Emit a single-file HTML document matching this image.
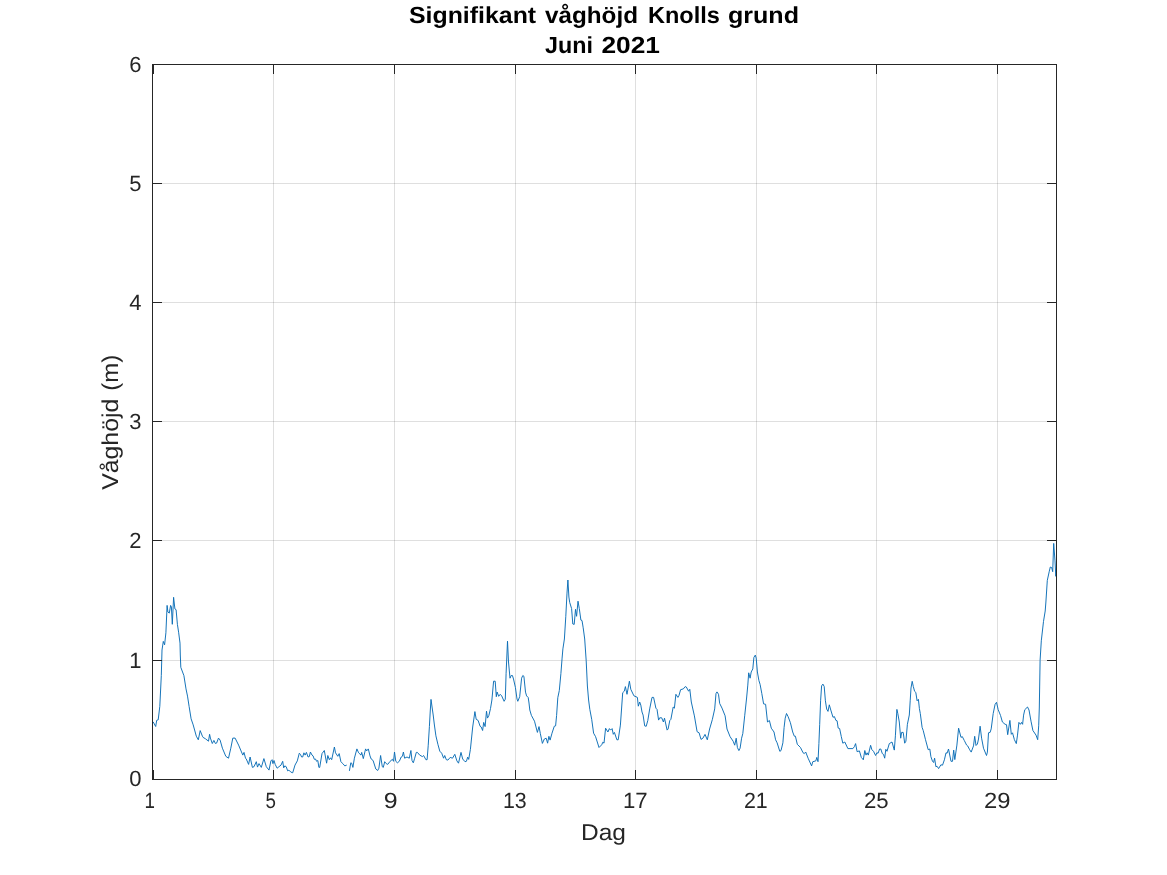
<!DOCTYPE html>
<html><head><meta charset="utf-8"><title>Signifikant våghöjd Knolls grund</title>
<style>
html,body{margin:0;padding:0;background:#fff;}
body{width:1167px;height:875px;overflow:hidden;position:relative;font-family:"Liberation Sans",sans-serif;}
svg{position:absolute;left:0;top:0;will-change:transform;}
text{font-family:"Liberation Sans",sans-serif;white-space:pre;text-rendering:geometricPrecision;}
.tk{font-size:22.0px;fill:#262626;}
.lb{font-size:22.9px;fill:#262626;}
.tt{font-size:23.3px;font-weight:bold;fill:#000;}
</style></head><body>
<svg width="1167" height="875" viewBox="0 0 1167 875">
<rect x="0" y="0" width="1167" height="875" fill="#fff"/>
<g stroke="#262626" stroke-opacity="0.15" stroke-width="1" shape-rendering="crispEdges">
<line x1="273.5" y1="64.5" x2="273.5" y2="779.5"/>
<line x1="394.5" y1="64.5" x2="394.5" y2="779.5"/>
<line x1="515.5" y1="64.5" x2="515.5" y2="779.5"/>
<line x1="635.5" y1="64.5" x2="635.5" y2="779.5"/>
<line x1="756.5" y1="64.5" x2="756.5" y2="779.5"/>
<line x1="876.5" y1="64.5" x2="876.5" y2="779.5"/>
<line x1="997.5" y1="64.5" x2="997.5" y2="779.5"/>
<line x1="152.5" y1="660.5" x2="1056.5" y2="660.5"/>
<line x1="152.5" y1="540.5" x2="1056.5" y2="540.5"/>
<line x1="152.5" y1="421.5" x2="1056.5" y2="421.5"/>
<line x1="152.5" y1="302.5" x2="1056.5" y2="302.5"/>
<line x1="152.5" y1="183.5" x2="1056.5" y2="183.5"/>
</g>
<g fill="none" stroke="#0a6db5" stroke-width="0.95" stroke-linejoin="round" stroke-linecap="butt">
<polyline points="153.1,721.8 155.7,726.5 156.7,720.3 158.2,719.8 159.8,706.4 161.3,675.6 162.0,650.0 163.3,641.4 164.6,644.8 165.9,632.8 167.1,605.4 167.9,612.0 169.3,613.1 170.6,605.4 171.4,607.0 172.3,624.3 173.6,597.3 174.9,608.9 176.1,609.7 177.4,624.3 178.7,632.8 180.0,643.1 180.3,655.0 180.8,667.3 183.9,675.6 186.0,688.9 187.5,696.1 189.1,706.4 191.1,718.8 193.2,724.9 196.3,736.2 198.3,739.8 200.2,730.6 202.4,736.2 203.1,737.4 205.5,738.8 208.5,741.2 209.6,734.3 210.4,738.1 212.3,743.5 213.9,740.4 215.4,743.5 216.6,743.1 218.5,738.1 220.1,740.1 222.4,748.2 225.8,756.3 228.5,758.2 230.8,748.2 232.8,738.1 235.1,738.1 238.6,745.1 242.8,755.1 244.0,752.4 245.5,758.2 246.3,759.0 248.6,764.4 250.1,757.0 252.4,767.4 254.0,766.7 256.3,761.7 257.5,767.1 259.0,763.6 261.3,767.4 263.9,758.6 266.3,766.7 269.0,770.1 270.9,760.9 272.1,759.7 272.9,763.6 274.0,760.5 275.2,764.4 277.1,768.2 281.0,765.1 282.7,761.3 283.7,767.8 284.8,765.9 286.2,766.7 287.7,770.9 288.9,770.1 290.8,772.1 292.7,772.8 295.0,765.1 297.3,760.9 299.3,753.2 300.4,754.3 301.6,757.0 302.7,757.0 303.9,752.8 305.1,755.1 306.4,752.4 308.1,757.0 309.3,756.6 310.4,752.0 312.0,755.1 313.1,755.9 314.3,759.3 315.5,759.0 316.6,761.3 317.8,760.5 318.9,767.4 319.7,767.4 322.0,753.6 324.3,750.5 326.6,763.2 327.8,755.5 329.3,759.7 330.5,757.8 331.7,759.7 334.4,747.0 335.5,752.8 337.8,756.3 339.2,753.6 340.9,761.7 342.8,763.6 344.8,765.9 346.7,765.1"/>
<polyline points="349.4,770.9 350.8,762.8 351.7,763.2 352.9,767.4 354.4,758.2 356.9,748.9 358.6,752.8 361.0,755.1 361.7,752.4 363.3,758.6 365.6,748.9 366.7,750.9 368.3,748.9 370.0,755.9 371.2,759.0 373.1,760.5 375.8,769.0 377.7,770.5 378.9,768.2 380.6,755.5 382.3,766.7 383.3,767.4 384.7,761.7 386.2,763.6 387.7,764.4 390.1,761.3 392.4,759.3 393.5,761.3 394.5,752.0 395.8,761.3 397.4,762.8 399.3,761.3 401.2,757.0 402.4,756.3 403.4,752.0 404.6,758.2 407.0,757.0 409.3,758.2 410.9,750.5 412.0,760.5 413.3,762.8 414.7,758.2 416.3,752.4 417.4,752.4 419.7,755.1 422.4,756.6 423.6,755.5 425.9,759.7 427.1,759.7 428.2,745.8 429.4,726.6 430.2,712.0 431.0,699.4 432.2,708.0 433.2,715.0 434.4,725.0 435.9,735.8 437.9,744.3 439.8,751.2 441.7,753.2 443.6,758.2 444.7,755.5 446.3,759.7 447.9,760.1 450.2,757.4 452.5,758.2 454.8,754.3 456.9,760.9 458.5,763.2 461.0,752.4 462.7,759.0 465.0,761.7 466.4,761.3 467.7,757.1 468.7,759.4 470.4,749.4 472.7,727.0 474.9,711.6 476.2,719.3 478.1,720.4 480.1,726.2 481.2,727.0 482.6,730.5 483.7,722.4 485.1,726.6 486.5,711.2 487.5,718.1 488.9,715.4 490.5,708.5 491.9,700.0 493.6,681.2 495.2,681.2 496.3,696.7 497.1,692.0 498.7,696.3 500.2,694.3 501.7,695.9 504.1,701.3 505.3,699.2 506.1,673.3 507.5,641.2 508.5,662.0 510.0,678.2 511.2,675.5 512.4,675.5 513.5,679.0 515.4,687.4 517.0,699.0 517.8,701.3 519.7,696.7 521.6,678.2 522.8,675.5 523.9,676.3 525.5,692.1 526.6,695.9 528.2,697.5 529.0,703.0 529.8,710.0 531.4,715.4 534.5,721.2 537.4,732.4 539.0,726.6 540.3,733.4 542.4,743.4 544.3,739.0 546.2,738.2 547.6,743.2 548.9,736.3 550.1,740.1 552.0,733.2 554.3,726.2 555.6,725.9 556.6,715.4 557.8,697.7 559.3,690.5 560.9,673.6 562.1,658.1 562.9,648.9 564.4,639.0 565.8,616.3 567.0,593.1 567.9,580.0 568.9,597.0 569.7,602.4 571.6,608.6 572.8,624.0 574.2,624.4 575.5,609.3 576.6,616.3 578.0,601.2 579.3,608.6 580.9,620.1 582.0,620.5 583.2,627.8 584.7,639.0 586.2,660.8 587.4,686.0 588.6,700.0 589.8,709.3 591.7,719.3 593.6,733.2 595.6,736.7 599.0,747.5 601.7,744.8 602.9,742.1 604.0,743.2 605.6,728.2 607.9,732.0 609.4,728.6 610.6,730.1 612.1,728.6 613.3,734.3 614.4,732.4 616.9,739.8 618.2,739.8 620.4,725.1 622.7,692.7 624.3,691.2 625.4,686.6 627.0,694.3 629.4,681.2 630.8,689.3 633.9,695.8 637.4,697.4 638.3,706.2 639.7,702.0 640.8,705.1 642.0,712.0 643.1,715.1 644.7,725.9 646.2,726.3 647.8,720.5 649.7,708.9 652.0,697.4 653.6,697.4 655.9,708.2 657.0,709.3 658.6,720.1 659.7,717.8 661.7,717.8 663.4,722.0 664.5,718.2 667.1,730.1 668.1,729.0 669.8,720.5 670.9,719.3 673.2,707.0 674.4,708.2 675.9,694.3 677.9,697.4 679.0,695.4 680.6,689.7 683.3,688.9 685.2,686.6 686.3,687.0 688.6,691.2 689.8,689.3 691.3,702.0 694.4,715.9 697.1,731.7 699.1,732.8 701.0,739.4 702.9,738.2 705.0,734.4 707.3,739.8 709.6,729.0 712.3,719.7 714.7,708.9 716.0,693.5 717.0,691.9 718.5,694.3 719.7,703.5 722.0,708.1 725.1,715.8 727.0,729.0 730.1,736.7 733.2,741.3 734.7,745.2 736.2,738.2 737.4,747.5 738.9,750.6 740.1,748.2 741.6,738.2 742.8,733.6 744.7,715.8 746.6,698.0 747.8,685.1 748.7,672.8 750.1,678.2 751.2,672.0 752.8,668.9 753.9,657.4 755.3,655.1 756.2,658.1 757.4,672.0 758.9,680.5 760.1,684.4 761.8,693.5 763.6,703.9 765.6,704.3 767.5,722.0 769.4,720.5 771.3,728.2 774.0,732.0 775.6,739.8 777.1,742.8 779.8,751.3 781.0,750.6 782.9,742.8 784.1,727.4 785.2,718.2 786.5,713.5 788.1,716.6 790.4,722.7 792.7,732.0 794.3,736.2 795.4,736.2 797.3,744.3 800.4,747.4 803.1,752.8 804.3,753.6 805.7,752.0 808.1,758.2 811.6,765.9 812.8,761.7 815.8,760.9 816.8,757.4 818.0,761.7 818.9,743.6 819.7,724.3 820.6,700.8 821.6,685.9 822.9,684.1 824.2,686.5 825.4,700.8 826.7,709.1 828.0,711.4 829.3,704.8 830.8,710.1 833.0,717.3 834.4,716.6 835.9,720.4 837.1,720.8 838.2,728.1 839.6,728.5 841.3,736.6 842.8,743.2 844.8,742.0 847.9,748.6 852.9,748.6 854.4,746.6 855.6,743.6 857.1,751.7 859.4,750.9 861.3,757.4 863.3,759.8 864.8,750.5 866.0,755.1 867.1,752.8 868.3,755.1 870.6,745.3 871.9,749.7 873.5,751.3 875.6,755.5 876.9,752.8 878.1,753.2 879.6,749.0 880.8,749.0 882.3,753.6 883.5,754.4 884.7,758.2 885.8,749.3 887.0,751.3 889.3,743.6 892.0,742.0 894.3,750.1 895.4,735.8 896.9,709.4 897.8,713.5 899.3,722.0 900.7,738.2 901.6,732.4 903.2,732.4 904.7,743.2 905.9,741.2 907.4,724.3 909.3,715.0 910.2,700.8 911.0,688.0 912.2,681.3 913.3,686.5 914.6,691.3 915.8,692.4 917.1,700.8 918.4,699.3 919.4,708.6 920.3,713.5 922.1,727.4 923.2,730.4 925.5,739.7 928.2,749.7 929.8,749.0 930.9,756.7 932.5,761.3 933.6,762.5 934.6,758.2 935.9,766.7 937.1,766.3 938.6,768.6 940.9,764.8 942.5,765.2 944.4,759.8 946.0,752.8 947.1,753.2 948.5,749.0 951.0,761.3 952.5,761.3 953.7,750.1 954.8,759.6 956.9,745.1 958.6,728.2 959.6,732.0 961.0,737.4 962.3,736.6 964.3,740.5 966.6,745.1 967.7,745.9 969.7,749.8 971.2,752.1 973.5,745.9 974.7,736.3 976.0,745.5 977.4,744.0 978.5,739.0 980.1,726.2 981.6,738.2 983.5,748.2 986.5,755.5 987.4,752.1 988.5,732.8 990.1,732.4 991.2,728.9 993.2,713.5 995.1,704.3 996.5,702.3 998.2,709.7 1000.5,715.4 1002.4,722.0 1005.1,724.3 1006.5,724.7 1007.7,734.7 1009.9,720.4 1011.3,734.3 1012.5,732.8 1014.4,739.7 1016.3,743.6 1017.5,735.1 1018.9,722.4 1020.4,724.3 1021.5,722.4 1022.6,724.3 1023.6,715.1 1024.8,709.7 1027.5,707.0 1029.0,710.0 1031.0,721.2 1032.9,730.5 1036.0,735.1 1037.7,739.7 1038.7,725.8 1039.3,708.0 1040.1,660.2 1041.3,640.8 1043.5,621.4 1045.2,611.0 1045.9,602.0 1047.3,580.4 1049.3,571.2 1050.3,567.0 1051.7,567.6 1052.7,571.7 1053.7,543.4 1055.0,560.9 1055.8,576.3 1056.3,571.0"/>
</g>
<g stroke="#262626" stroke-width="1" fill="none" shape-rendering="crispEdges">
<rect x="152.5" y="64.5" width="904.0" height="715.0"/>
<line x1="153.5" y1="779.5" x2="153.5" y2="770.0"/>
<line x1="153.5" y1="64.5" x2="153.5" y2="74.0"/>
<line x1="273.5" y1="779.5" x2="273.5" y2="770.0"/>
<line x1="273.5" y1="64.5" x2="273.5" y2="74.0"/>
<line x1="394.5" y1="779.5" x2="394.5" y2="770.0"/>
<line x1="394.5" y1="64.5" x2="394.5" y2="74.0"/>
<line x1="515.5" y1="779.5" x2="515.5" y2="770.0"/>
<line x1="515.5" y1="64.5" x2="515.5" y2="74.0"/>
<line x1="635.5" y1="779.5" x2="635.5" y2="770.0"/>
<line x1="635.5" y1="64.5" x2="635.5" y2="74.0"/>
<line x1="756.5" y1="779.5" x2="756.5" y2="770.0"/>
<line x1="756.5" y1="64.5" x2="756.5" y2="74.0"/>
<line x1="876.5" y1="779.5" x2="876.5" y2="770.0"/>
<line x1="876.5" y1="64.5" x2="876.5" y2="74.0"/>
<line x1="997.5" y1="779.5" x2="997.5" y2="770.0"/>
<line x1="997.5" y1="64.5" x2="997.5" y2="74.0"/>
<line x1="152.5" y1="779.5" x2="162.0" y2="779.5"/>
<line x1="1056.5" y1="779.5" x2="1047.0" y2="779.5"/>
<line x1="152.5" y1="660.5" x2="162.0" y2="660.5"/>
<line x1="1056.5" y1="660.5" x2="1047.0" y2="660.5"/>
<line x1="152.5" y1="540.5" x2="162.0" y2="540.5"/>
<line x1="1056.5" y1="540.5" x2="1047.0" y2="540.5"/>
<line x1="152.5" y1="421.5" x2="162.0" y2="421.5"/>
<line x1="1056.5" y1="421.5" x2="1047.0" y2="421.5"/>
<line x1="152.5" y1="302.5" x2="162.0" y2="302.5"/>
<line x1="1056.5" y1="302.5" x2="1047.0" y2="302.5"/>
<line x1="152.5" y1="183.5" x2="162.0" y2="183.5"/>
<line x1="1056.5" y1="183.5" x2="1047.0" y2="183.5"/>
<line x1="152.5" y1="64.5" x2="162.0" y2="64.5"/>
<line x1="1056.5" y1="64.5" x2="1047.0" y2="64.5"/>
</g>
<text class="tt" x="409.00" y="22.90" textLength="127.10" lengthAdjust="spacingAndGlyphs">Signifikant</text>
<text class="tt" x="545.00" y="22.90" textLength="93.00" lengthAdjust="spacingAndGlyphs">våghöjd</text>
<text class="tt" x="648.00" y="22.90" textLength="71.90" lengthAdjust="spacingAndGlyphs">Knolls</text>
<text class="tt" x="728.00" y="22.90" textLength="71.00" lengthAdjust="spacingAndGlyphs">grund</text>
<text class="tt" x="545.00" y="52.60" textLength="47.90" lengthAdjust="spacingAndGlyphs">Juni</text>
<text class="tt" x="601.50" y="52.60" textLength="58.50" lengthAdjust="spacingAndGlyphs">2021</text>
<text class="lb" x="581.00" y="840.00" textLength="44.90" lengthAdjust="spacingAndGlyphs">Dag</text>
<text class="lb" transform="translate(117.50,489.82) rotate(-90)" textLength="91.10" lengthAdjust="spacingAndGlyphs">Våghöjd</text>
<text class="lb" transform="translate(117.50,390.68) rotate(-90)" textLength="36.08" lengthAdjust="spacingAndGlyphs">(m)</text>
<text class="tk" x="144.60" y="808.00" textLength="10.46" lengthAdjust="spacingAndGlyphs">1</text>
<text class="tk" x="265.50" y="808.00" textLength="10.46" lengthAdjust="spacingAndGlyphs">5</text>
<text class="tk" x="383.80" y="808.00" textLength="13.88" lengthAdjust="spacingAndGlyphs">9</text>
<text class="tk" x="502.90" y="808.00" textLength="23.80" lengthAdjust="spacingAndGlyphs">13</text>
<text class="tk" x="622.90" y="808.00" textLength="24.70" lengthAdjust="spacingAndGlyphs">17</text>
<text class="tk" x="743.90" y="808.00" textLength="23.80" lengthAdjust="spacingAndGlyphs">21</text>
<text class="tk" x="863.90" y="808.00" textLength="24.70" lengthAdjust="spacingAndGlyphs">25</text>
<text class="tk" x="984.00" y="808.00" textLength="26.50" lengthAdjust="spacingAndGlyphs">29</text>
<text class="tk" x="129.20" y="786.20">0</text>
<text class="tk" x="129.20" y="668.00">1</text>
<text class="tk" x="129.20" y="548.00">2</text>
<text class="tk" x="129.20" y="429.00">3</text>
<text class="tk" x="129.20" y="310.00">4</text>
<text class="tk" x="129.20" y="191.00">5</text>
<text class="tk" x="129.20" y="72.00">6</text>
</svg></body></html>
